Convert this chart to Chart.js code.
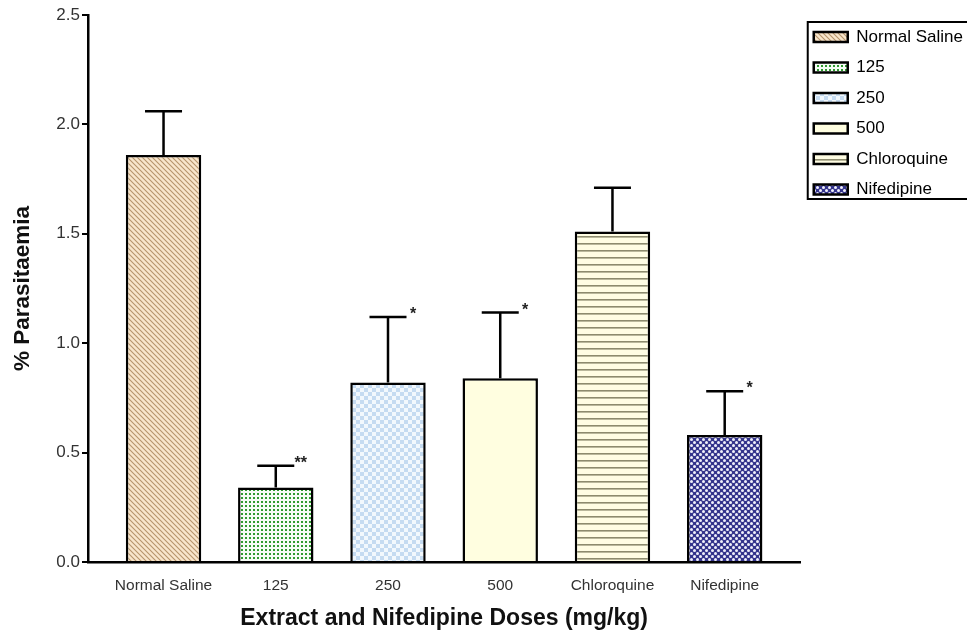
<!DOCTYPE html>
<html>
<head>
<meta charset="utf-8">
<script src="https://cdn.jsdelivr.net/npm/chart.js@4.4.1/dist/chart.umd.min.js"></script>
<style>
  html, body { margin: 0; padding: 0; background: #fff; }
  #wrap { width: 967px; height: 637px; position: relative; }
</style>
</head>
<body>
<div id="wrap"><canvas id="parasitaemiaChart"></canvas></div>
<script>
const categories = ['Normal Saline', '125', '250', '500', 'Chloroquine', 'Nifedipine'];
const means = [1.86, 0.34, 0.82, 0.84, 1.51, 0.58];
const errors = [0.20, 0.10, 0.30, 0.30, 0.20, 0.20];
const stars = ['', '**', '*', '*', '', '*'];
const yTicks = [0, 0.5, 1.0, 1.5, 2.0, 2.5];

const arial = "Arial, 'Liberation Sans', sans-serif";

function makePattern(w, h, paint) {
    const c = document.createElement('canvas');
    c.width = w; c.height = h;
    const g = c.getContext('2d');
    paint(g, w, h);
    return g.createPattern(c, 'repeat');
}

// fills for each group
const fills = [
    makePattern(5, 5, (g, w, h) => {
        g.fillStyle = '#f8e6cc'; g.fillRect(0, 0, w, h);
        g.strokeStyle = '#b6946c'; g.lineWidth = 1.1;
        g.beginPath();
        g.moveTo(-1, -1); g.lineTo(w + 1, h + 1);
        g.moveTo(-1, h - 1); g.lineTo(1, h + 1);
        g.moveTo(w - 1, -1); g.lineTo(w + 1, 1);
        g.stroke();
    }),
    makePattern(4, 4, (g, w, h) => {
        g.fillStyle = '#f6fcf6'; g.fillRect(0, 0, w, h);
        g.fillStyle = '#2f9a2f'; g.fillRect(1, 1, 2, 2);
    }),
    makePattern(8, 8, (g, w, h) => {
        g.fillStyle = '#f2f8fd'; g.fillRect(0, 0, w, h);
        g.fillStyle = '#c5dbf1';
        g.fillRect(0, 0, 4, 4); g.fillRect(4, 4, 4, 4);
    }),
    '#fffee0',
    makePattern(7, 7, (g, w, h) => {
        g.fillStyle = '#fffde3'; g.fillRect(0, 0, w, h);
        g.fillStyle = '#8d8b6e'; g.fillRect(0, 5, w, 1.6);
    }),
    makePattern(6, 6, (g, w, h) => {
        g.fillStyle = '#34348c'; g.fillRect(0, 0, w, h);
        g.fillStyle = '#f0f0fa';
        g.beginPath(); g.arc(1.5, 1.5, 1.5, 0, Math.PI * 2); g.fill();
        g.beginPath(); g.arc(4.5, 4.5, 1.5, 0, Math.PI * 2); g.fill();
    })
];

const errorBars = {
    id: 'errorBars',
    afterDatasetsDraw(chart) {
        const ctx = chart.ctx;
        const y = chart.scales.y;
        const meta = chart.getDatasetMeta(0);
        ctx.save();
        ctx.strokeStyle = '#000';
        ctx.lineWidth = 2.5;
        meta.data.forEach((bar, i) => {
            const top = y.getPixelForValue(means[i] + errors[i]);
            ctx.beginPath();
            ctx.moveTo(bar.x, bar.y);
            ctx.lineTo(bar.x, top);
            ctx.moveTo(bar.x - 18.5, top);
            ctx.lineTo(bar.x + 18.5, top);
            ctx.stroke();
            if (stars[i]) {
                ctx.font = 'bold 16px ' + arial;
                ctx.textAlign = 'center';
                ctx.textBaseline = 'alphabetic';
                ctx.fillStyle = '#222';
                ctx.fillText(stars[i], bar.x + 25, top + 2);
            }
        });
        ctx.restore();
    }
};

const legendFrame = {
    id: 'legendFrame',
    afterDraw(chart) {
        const boxes = chart.legend.legendHitBoxes;
        if (!boxes || !boxes.length) return;
        const first = boxes[0], last = boxes[boxes.length - 1];
        const ctx = chart.ctx;
        ctx.save();
        ctx.strokeStyle = '#000';
        ctx.lineWidth = 2;
        const left = first.left - 6, top = first.top - 6.5;
        ctx.strokeRect(left, top, chart.width + 10 - left, last.top + last.height + 1 - top);
        ctx.restore();
    }
};

new Chart(document.getElementById('parasitaemiaChart'), {
    type: 'bar',
    data: {
        datasets: [{
            data: categories.map((c, i) => ({ x: i, y: means[i] })),
            backgroundColor: fills,
            borderColor: '#000',
            borderWidth: 2.5,
            borderSkipped: 'bottom',
            categoryPercentage: 1,
            barPercentage: 0.672
        }]
    },
    options: {
        responsive: true,
        maintainAspectRatio: false,
        animation: false,
        layout: { padding: { top: 15, left: 0, right: -6, bottom: 0 } },
        plugins: {
            tooltip: { enabled: false },
            legend: {
                position: 'right',
                align: 'start',
                labels: {
                    boxWidth: 34,
                    boxHeight: 10,
                    padding: 13.5,
                    color: '#222',
                    font: { family: arial, size: 17 },
                    generateLabels: () => categories.map((c, i) => ({
                        text: c,
                        fillStyle: fills[i],
                        strokeStyle: '#000',
                        lineWidth: 2.5,
                        hidden: false,
                        index: i
                    }))
                },
                onClick: null
            }
        },
        scales: {
            x: {
                type: 'linear',
                offset: false,
                min: -0.673,
                max: 5.673,
                afterBuildTicks: axis => { axis.ticks = categories.map((c, i) => ({ value: i })); },
                afterFit: axis => { axis.height = 75; },
                grid: { display: false },
                border: { display: true, color: '#000', width: 2.5 },
                ticks: {
                    autoSkip: false,
                    maxRotation: 0,
                    padding: 6,
                    color: '#333',
                    font: { family: arial, size: 15.5 },
                    callback: v => categories[v]
                },
                title: {
                    display: true,
                    text: 'Extract and Nifedipine Doses (mg/kg)',
                    color: '#111',
                    font: { family: arial, size: 23, weight: 'bold' },
                    padding: { top: 0, bottom: 5 }
                }
            },
            y: {
                min: 0,
                max: 2.5,
                afterBuildTicks: axis => { axis.ticks = yTicks.map(v => ({ value: v })); },
                afterFit: axis => { axis.width = 88; },
                grid: { display: true, drawOnChartArea: false, drawTicks: true, tickLength: 6, color: '#000', lineWidth: 2 },
                border: { display: true, color: '#000', width: 2.5 },
                ticks: {
                    padding: 2,
                    color: '#333',
                    font: { family: arial, size: 17 },
                    callback: v => v.toFixed(1)
                },
                title: {
                    display: true,
                    text: '% Parasitaemia',
                    color: '#111',
                    font: { family: arial, size: 22.5, weight: 'bold' },
                    padding: { top: 9, bottom: 0 }
                }
            }
        }
    },
    plugins: [errorBars, legendFrame]
});
</script>
</body>
</html>
